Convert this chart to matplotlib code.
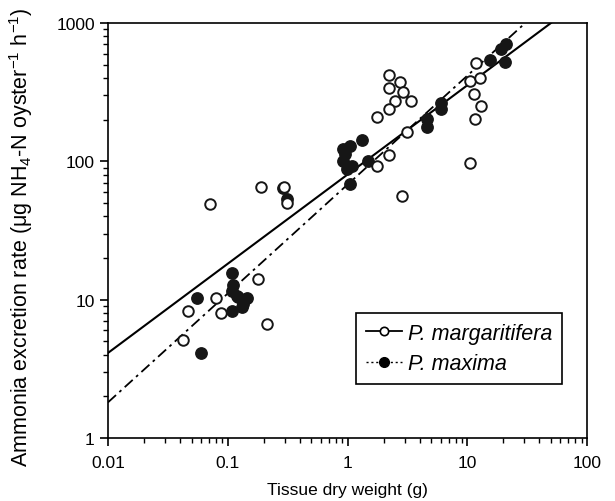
import numpy as np
import matplotlib
matplotlib.use('Agg')
import matplotlib.pyplot as plt
from matplotlib.lines import Line2D

plt.rcParams['font.family'] = ['Liberation Sans', 'DejaVu Sans']
plt.rcParams['mathtext.default'] = 'regular'

# P. margaritifera (open circles)
marg_w = [0.0425, 0.047, 0.0805, 0.088, 0.071, 0.18, 0.214, 0.191, 0.296, 0.315,
          2.22, 2.76, 2.22, 2.88, 2.49, 3.38, 2.22, 1.78, 1.78, 2.22,
          3.16, 2.86, 10.5, 11.7, 12.9, 11.3, 10.6, 12.7, 11.8]
marg_r = [5.14, 8.24, 10.2, 8.0, 49.2, 14.1, 6.67, 65.3, 65.3, 49.6,
          421, 373, 338, 319, 272, 271, 238, 209, 93, 112,
          164, 56.5, 96.6, 201, 250, 305, 380, 398, 515]

# P. maxima (filled circles)
max_w = [0.055, 0.0594, 0.109, 0.111, 0.119, 0.108, 0.144, 0.131, 0.109, 0.135, 0.122,
         0.29, 0.313,
         1.33, 1.047, 0.951, 0.921, 0.983, 1.1, 1.047, 1.47, 0.92,
         4.57, 4.57, 6.06, 6.0, 15.6, 20.6, 19.1, 21.0]
max_r = [10.2, 4.12, 15.5, 12.8, 10.7, 11.6, 10.2, 8.81, 8.22, 9.3, 10.5,
         64.5, 53.0,
         142, 130, 113, 99.8, 88.1, 93.1, 68.6, 100.7, 123,
         203, 176, 264, 239, 537, 521, 650, 700]

# regression lines, end points
fit_marg_x = [0.01, 50]
fit_marg_y = [4.12, 1000]
fit_max_x = [0.01, 29.3]
fit_max_y = [1.81, 969]

fig = plt.figure(figsize=(6.15, 5.02), dpi=100)
ax = fig.add_axes([0.1756, 0.1255, 0.7789, 0.8267])

dashdot = (0, (6, 2.5, 1.5, 2.5))
ax.plot(fit_marg_x, fit_marg_y, color='black', lw=1.5, zorder=2)
ax.plot(fit_max_x, fit_max_y, color='black', lw=1.3, ls=dashdot, zorder=2)

ax.plot(max_w, max_r, 'o', color='#161616', ms=8.2, mec='#161616', zorder=3)
ax.plot(marg_w, marg_r, 'o', mfc='white', mec='#161616', mew=1.4, ms=7.6, zorder=4)

ax.set_xscale('log')
ax.set_yscale('log')
ax.set_xlim(0.01, 100)
ax.set_ylim(1, 1000)
ax.set_xticks([0.01, 0.1, 1, 10, 100])
ax.set_xticklabels(['0.01', '0.1', '1', '10', '100'])
ax.set_yticks([1, 10, 100, 1000])
ax.set_yticklabels(['1', '10', '100', '1000'])

ax.tick_params(which='major', direction='out', length=6, width=1.2, labelsize=12.5)
ax.tick_params(axis='x', which='major', pad=6)
ax.tick_params(which='minor', direction='out', length=3.5, width=1.0)
for s in ax.spines.values():
    s.set_linewidth(1.2)

ax.set_xlabel('Tissue dry weight (g)', fontsize=12.5, labelpad=9)
ax.set_ylabel(r'Ammonia excretion rate ($\mu$g NH$_4$-N oyster$^{-1}$ h$^{-1}$)',
              fontsize=15.5)
ax.yaxis.set_label_coords(-0.152, 0.486)

# legend
handles = [Line2D([], [], color='black', lw=1.3, marker='o', mfc='white', mec='black', ms=6, mew=1.2),
           Line2D([], [], color='black', lw=1.0, ls=(0, (1.5, 2)), marker='o', mfc='black', mec='black', ms=7)]
leg = ax.legend(handles, ['P. margaritifera', 'P. maxima'], loc='upper left',
                bbox_to_anchor=(0.518, 0.301), borderaxespad=0, fancybox=False,
                edgecolor='black', framealpha=1, handlelength=1.7, handletextpad=0.25,
                borderpad=0.45, labelspacing=0.45, prop={'style': 'italic', 'size': 15.5})
leg.get_frame().set_linewidth(1.2)

plt.savefig('out.png', dpi=100)
